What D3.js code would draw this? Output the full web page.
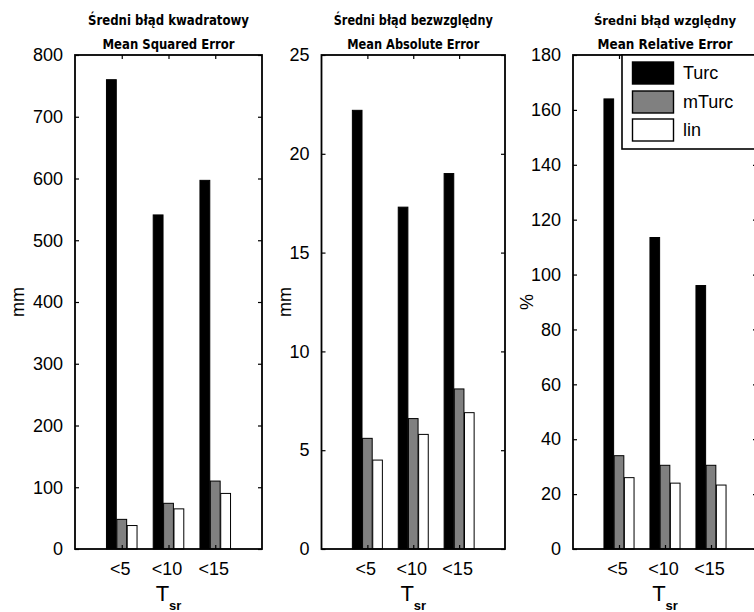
<!DOCTYPE html>
<html>
<head>
<meta charset="utf-8">
<script src="https://cdn.jsdelivr.net/npm/d3@7"></script>
<style>
  html, body { margin: 0; padding: 0; background: #fff; }
  svg { display: block; }
  .tick text { font-family: "Liberation Sans", Arial, sans-serif; }
</style>
</head>
<body>
<svg id="chart" width="754" height="612"></svg>
<script>
// ---- data ----
const categories = ["<5", "<10", "<15"];
const seriesNames = ["Turc", "mTurc", "lin"];
const seriesColors = ["#000000", "#808080", "#ffffff"];

const mseTurc  = [760, 541, 597];
const mseMTurc = [48, 74, 110];
const mseLin   = [38, 65, 90];
const mseTicks = [0, 100, 200, 300, 400, 500, 600, 700, 800];

const maeTurc  = [22.2, 17.3, 19.0];
const maeMTurc = [5.6, 6.6, 8.1];
const maeLin   = [4.5, 5.8, 6.9];
const maeTicks = [0, 5, 10, 15, 20, 25];

const mreTurc  = [164, 113.5, 96];
const mreMTurc = [34, 30.5, 30.5];
const mreLin   = [26, 24, 23.3];
const mreTicks = [0, 20, 40, 60, 80, 100, 120, 140, 160, 180];

const titlesPL = ["Średni błąd kwadratowy", "Średni błąd bezwzględny", "Średni błąd względny"];
const titlesEN = ["Mean Squared Error", "Mean Absolute Error", "Mean Relative Error"];
const yLabels = ["mm", "mm", "%"];
const xLabel = "T";
const xLabelSub = "sr";

// ---- layout ----
const panels = [
  { x0: 75,  x1: 262, ylabelX: 17.5, series: [mseTurc, mseMTurc, mseLin], ticks: mseTicks, tw: [161, 132] },
  { x0: 321.5, x1: 505, ylabelX: 285, series: [maeTurc, maeMTurc, maeLin], ticks: maeTicks, tw: [159, 132] },
  { x0: 573, x1: 757, ylabelX: 527, series: [mreTurc, mreMTurc, mreLin], ticks: mreTicks, tw: [null, 135] }
];
const yTop = 55, yBot = 549;

const svg = d3.select("#chart");
const labelFont = '"Liberation Sans", Arial, sans-serif';
const titleFont = '"Liberation Sans Narrow", "Arial Narrow", "DejaVu Sans Condensed", sans-serif';

panels.forEach((p, pi) => {
  const x = d3.scaleLinear().domain([0, categories.length + 1]).range([p.x0, p.x1]);
  const y = d3.scaleLinear().domain([0, d3.max(p.ticks)]).range([yBot, yTop]);
  const g = svg.append("g");

  g.append("rect").attr("x", p.x0).attr("y", yTop)
    .attr("width", p.x1 - p.x0).attr("height", yBot - yTop).attr("fill", "#fff");

  // bars
  const offset = 0.222, bw = 0.21;
  p.series.forEach((vals, si) => {
    g.selectAll(null).data(vals).enter().append("rect")
      .attr("x", (d, i) => x(i + 1 + (si - 1) * offset - bw / 2))
      .attr("width", x(bw) - x(0))
      .attr("y", d => y(d))
      .attr("height", d => y(0) - y(d))
      .attr("fill", seriesColors[si])
      .attr("stroke", "#000").attr("stroke-width", 1);
  });

  const catTicks = categories.map((c, i) => i + 1);
  const axL = d3.axisLeft(y).tickValues(p.ticks).tickSize(-4).tickPadding(12).tickFormat(d3.format("d"));
  const axR = d3.axisRight(y).tickValues(p.ticks).tickSize(-4).tickFormat("");
  const axB = d3.axisBottom(x).tickValues(catTicks).tickSize(-4).tickPadding(13)
    .tickFormat((d, i) => categories[i]);
  const axT = d3.axisTop(x).tickValues(catTicks).tickSize(-4).tickFormat("");

  const gl = g.append("g").attr("transform", `translate(${p.x0},0)`).call(axL);
  const gr = g.append("g").attr("transform", `translate(${p.x1},0)`).call(axR);
  const gb = g.append("g").attr("transform", `translate(0,${yBot})`).call(axB);
  const gt = g.append("g").attr("transform", `translate(0,${yTop})`).call(axT);
  [gl, gr, gb, gt].forEach(a => {
    a.select(".domain").remove();
    a.selectAll(".tick line").attr("stroke", "#000").attr("stroke-width", 1.2);
    a.selectAll(".tick text").attr("font-size", 18).attr("fill", "#000");
  });
  gb.selectAll(".tick text").attr("dx", -2);

  // box
  g.append("rect").attr("x", p.x0).attr("y", yTop)
    .attr("width", p.x1 - p.x0).attr("height", yBot - yTop)
    .attr("fill", "none").attr("stroke", "#000").attr("stroke-width", 1.8);

  // titles
  const cx = (p.x0 + p.x1) / 2;
  const t1 = g.append("text").attr("x", cx).attr("y", 25).attr("text-anchor", "middle")
    .attr("font-family", titleFont).attr("font-weight", "bold")
    .attr("font-size", p.tw[0] ? 14 : 13).text(titlesPL[pi]);
  if (p.tw[0]) t1.attr("textLength", p.tw[0]).attr("lengthAdjust", "spacingAndGlyphs");
  g.append("text").attr("x", cx).attr("y", 49).attr("text-anchor", "middle")
    .attr("font-family", titleFont).attr("font-weight", "bold").attr("font-size", 14)
    .attr("textLength", p.tw[1]).attr("lengthAdjust", "spacingAndGlyphs").text(titlesEN[pi]);

  // y label
  g.append("text").attr("transform", `translate(${p.ylabelX + 6},302) rotate(-90)`)
    .attr("text-anchor", "middle").attr("font-family", labelFont).attr("font-size", 18)
    .text(yLabels[pi]);

  // x label
  const xl = g.append("text").attr("x", cx).attr("y", 601).attr("text-anchor", "middle")
    .attr("font-family", labelFont);
  xl.append("tspan").attr("font-size", 22).text(xLabel);
  xl.append("tspan").attr("font-size", 13).attr("font-weight", "bold").attr("dy", 9).text(xLabelSub);
});

// legend (in third panel)
const lg = svg.append("g");
lg.append("rect").attr("x", 622).attr("y", yTop).attr("width", 140).attr("height", 94)
  .attr("fill", "#fff").attr("stroke", "#000").attr("stroke-width", 1.6);
const legY = [62, 91, 119];
seriesNames.forEach((s, i) => {
  lg.append("rect").attr("x", 632.5).attr("y", legY[i]).attr("width", 41).attr("height", 22)
    .attr("fill", seriesColors[i]).attr("stroke", "#000").attr("stroke-width", 1.4);
  lg.append("text").attr("x", 683).attr("y", legY[i] + 11).attr("dy", "0.36em")
    .attr("font-family", labelFont).attr("font-size", 18).text(s);
});
</script>
</body>
</html>
